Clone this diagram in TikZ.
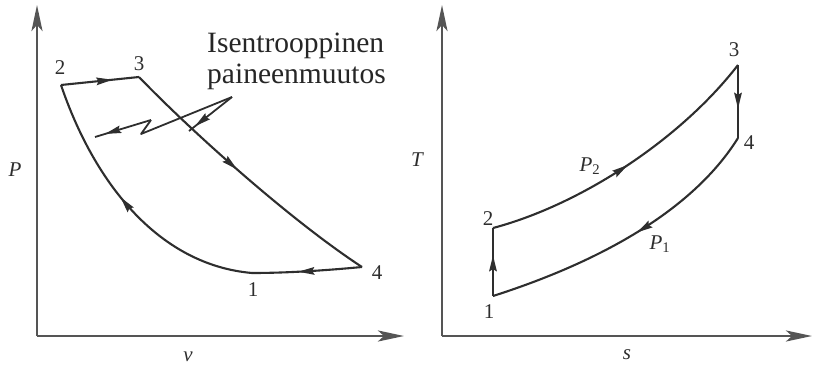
\documentclass[tikz,border=0pt]{standalone}
\usepackage{fontspec}
\setmainfont{Liberation Serif}
\usetikzlibrary{arrows.meta,decorations.markings}
\definecolor{ink}{HTML}{2E2E2E}
\definecolor{axisc}{HTML}{555555}
\tikzset{
  curve/.style={draw=ink, line width=2.1pt, line join=round},
  axisline/.style={draw=axisc, line width=2.6pt, -{Stealth[length=26pt,width=11pt,inset=6pt]}},
  midarrow/.style={postaction={decorate}, decoration={markings, mark=at position #1 with {\arrow{Stealth[length=16pt,width=7.5pt,inset=2pt]}}}},
  numlbl/.style={font=\fontsize{21}{22}\selectfont, text=ink, inner sep=0pt},
  axlbl/.style={font=\fontsize{21}{22}\selectfont\itshape, text=ink, inner sep=0pt},
  bigtext/.style={font=\fontsize{29.5}{31}\selectfont, text=black!85, inner sep=0pt, anchor=base west},
}
\begin{document}
\begin{tikzpicture}[x=1pt,y=-1pt]
\useasboundingbox (0,0) rectangle (820,367);
% ---------- left diagram ----------
\coordinate (Lo) at (37,336);
\coordinate (Ly) at (37,5);
\coordinate (Lx) at (404,336);
\draw[axisline] (Lo) -- (Ly);
\draw[axisline] (Lo) -- (Lx);
\node[axlbl] (Plbl) at (15,170) {P};
\node[axlbl] (vlbl) at (188,357) {v};

\coordinate (a1) at (252,273);
\coordinate (a2) at (61,85);
\coordinate (a3) at (139,77);
\coordinate (a4) at (362,267);
\draw[curve, midarrow=0.66] (a2) -- (a3);
\draw[curve, midarrow=0.46] (a3) .. controls (190,130) and (290,220) .. (a4);
\draw[curve, midarrow=0.58] (a4) .. controls (330,270) and (290,273) .. (a1);
\draw[curve, midarrow=0.55] (a1) .. controls (160,265) and (95,185) .. (a2);

\node[numlbl] (n2) at (60,68) {2};
\node[numlbl] (n3) at (139,64) {3};
\node[numlbl] (n4) at (377,273) {4};
\node[numlbl] (n1) at (253,290) {1};

\node[bigtext] (t1) at (207,52) {Isentrooppinen};
\node[bigtext] (t2) at (207,83) {paineenmuutos};

% lightning arrows
\coordinate (z0) at (232,97);
\coordinate (z1) at (141,134);
\coordinate (z2) at (151,120);
\coordinate (z3) at (95,137);
\coordinate (z4) at (189,131);
\draw[curve, line width=1.8pt] (z0) -- (z1) -- (z2);
\draw[curve, line width=1.8pt, midarrow=0.82] (z2) -- (z3);
\draw[curve, line width=1.8pt, midarrow=0.86] (z0) -- (z4);

% ---------- right diagram ----------
\coordinate (Ro) at (442,336);
\coordinate (Ry) at (442,5);
\coordinate (Rx) at (812,336);
\draw[axisline] (Ro) -- (Ry);
\draw[axisline] (Ro) -- (Rx);
\node[axlbl] (Tlbl) at (417,160) {T};
\node[axlbl] (slbl) at (627,355) {s};

\coordinate (b1) at (493,296);
\coordinate (b2) at (493,228);
\coordinate (b3) at (738,65);
\coordinate (b4) at (738,138);
\draw[curve, midarrow=0.6] (b1) -- (b2);
\draw[curve, midarrow=0.5] (b2) .. controls (580,205) and (680,140) .. (b3);
\draw[curve, midarrow=0.6] (b3) -- (b4);
\draw[curve, midarrow=0.47] (b4) .. controls (690,215) and (590,265) .. (b1);

\node[numlbl] (m1) at (489,312) {1};
\node[numlbl] (m2) at (488,219) {2};
\node[numlbl] (m3) at (734,50) {3};
\node[numlbl] (m4) at (749,143) {4};
\node[axlbl] (p2) at (590,166) {P\textsubscript{\upshape 2}};
\node[axlbl] (p1) at (660,244) {P\textsubscript{\upshape 1}};
\end{tikzpicture}
\end{document}
